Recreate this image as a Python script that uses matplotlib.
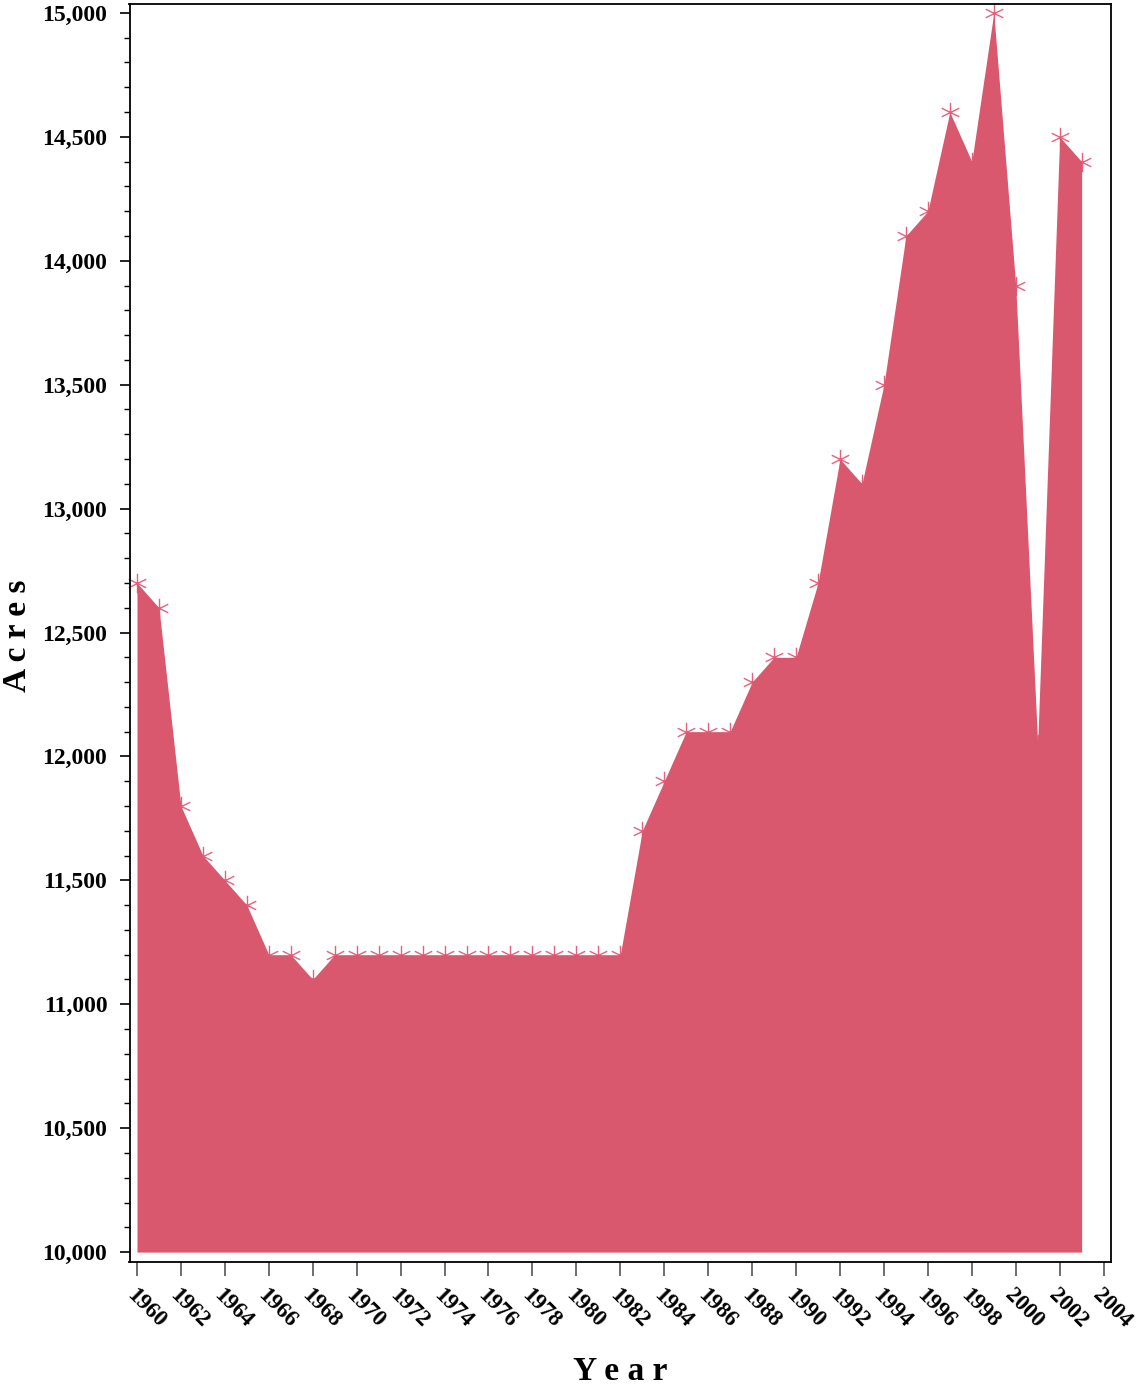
import matplotlib
matplotlib.use("Agg")
import numpy as np
import matplotlib.pyplot as plt
from matplotlib.path import Path
from matplotlib.ticker import MultipleLocator, FuncFormatter

years = list(range(1960, 2004))
acres = [12700, 12600, 11800, 11600, 11500, 11400, 11200, 11200, 11100,
         11200, 11200, 11200, 11200, 11200, 11200, 11200, 11200, 11200,
         11200, 11200, 11200, 11200, 11200,
         11700, 11900, 12100, 12100, 12100, 12300, 12400, 12400, 12700,
         13200, 13100, 13500, 14100, 14200, 14600, 14400, 15000, 13900,
         12050, 14500, 14400]
xticks = list(range(1960, 2005, 2))
baseline = 10000

# asterisk marker: vertical arm plus two flat diagonals
a = np.deg2rad(26)
c, s = np.cos(a), np.sin(a)
star = Path([(0, -1), (0, 1), (-c, -s), (c, s), (-c, s), (c, -s)],
            [Path.MOVETO, Path.LINETO, Path.MOVETO, Path.LINETO, Path.MOVETO, Path.LINETO])

plt.rcParams['font.family'] = ['Liberation Serif', 'DejaVu Serif']
plt.rcParams['font.weight'] = 'bold'

fig = plt.figure(figsize=(11.36, 13.89), dpi=100)
ax = fig.add_axes([129.5/1136, 1-1262/1389, (1111.3-129.5)/1136, (1262-4)/1389])

ax.plot(years, acres, linestyle='none', marker=star, markersize=14,
        markeredgewidth=1.0, color='#E8607E', zorder=1, clip_on=False)
ax.fill_between(years, acres, baseline, color='#D9586E', linewidth=0, zorder=2)

ax.set_xlim(1959.66, 2004.35)
ax.set_ylim(9960, 15036)
ax.set_xticks(xticks)
ax.set_xticklabels([str(x) for x in xticks], rotation=-45, ha='left', va='top',
                   rotation_mode='anchor', fontsize=16.5, fontweight='bold')
ax.yaxis.set_major_locator(MultipleLocator(500))
ax.yaxis.set_minor_locator(MultipleLocator(100))
ax.yaxis.set_major_formatter(FuncFormatter(lambda v, p: f"{int(v):,}"))
for lab in ax.get_yticklabels():
    lab.set_fontsize(17)
    lab.set_fontweight('bold')

ax.tick_params(axis='y', which='major', length=7, width=1.2, pad=9, labelsize=17)
ax.tick_params(axis='y', which='minor', length=4, width=1.0)
ax.tick_params(axis='x', which='major', length=10, width=1.2, color='#555555', pad=6, labelsize=16.5)
for sp in ax.spines.values():
    sp.set_linewidth(1.3)

ax.set_xlabel('Y e a r', fontsize=24, fontweight='bold', va='center')
ax.set_ylabel('A c r e s', fontsize=24, fontweight='bold', va='center')
ax.xaxis.set_label_coords(0.4996, -0.0874)
ax.yaxis.set_label_coords(-0.1136, 0.4976)

fig.savefig('out.png', dpi=100)
